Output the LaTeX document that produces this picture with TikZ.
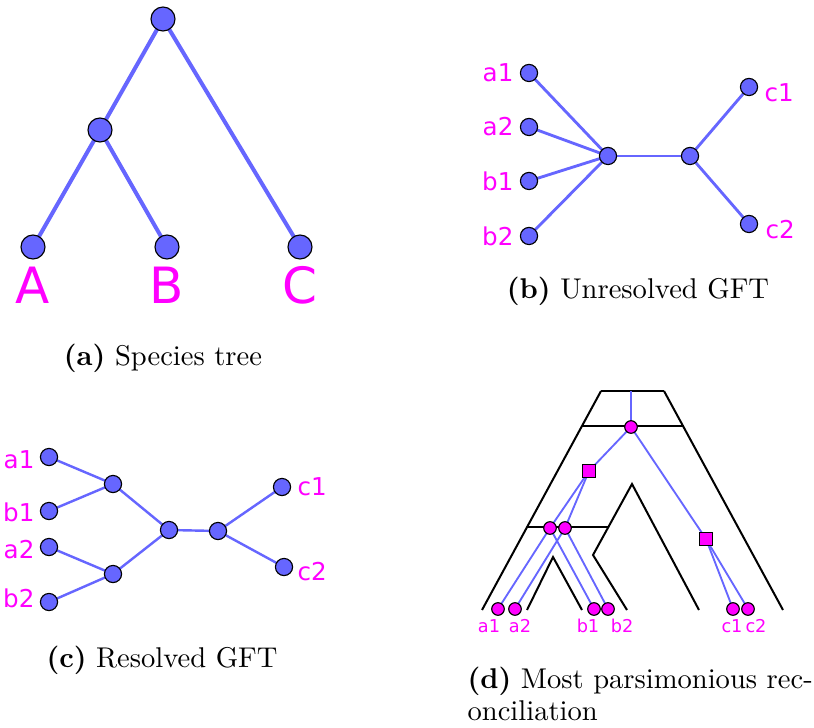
\documentclass[tikz,border=0pt]{standalone}
\usepackage{fontspec}
\newfontfamily\lblfont{DejaVu Sans}
\definecolor{gblue}{RGB}{102,102,255}
\definecolor{gmag}{RGB}{255,0,255}
\begin{document}
\begin{tikzpicture}[x=0.35pt,y=-0.35pt,
  gnode/.style={circle,draw=black,line width=0.4pt,fill=gblue,inner sep=0pt},
  anode/.style={gnode,minimum size=8.4pt},
  bnode/.style={gnode,minimum size=6pt},
  dcirc/.style={circle,draw=black,line width=0.4pt,fill=gmag,inner sep=0pt,minimum size=4.4pt},
  dsq/.style={rectangle,draw=black,line width=0.4pt,fill=gmag,inner sep=0pt,minimum size=4.5pt},
  bigl/.style={text=gmag,inner sep=0pt,font=\lblfont\fontsize{17.5}{20}\selectfont},
  midl/.style={text=gmag,inner sep=0pt,font=\lblfont\fontsize{8.6}{10}\selectfont},
  smalll/.style={text=gmag,inner sep=0pt,font=\lblfont\fontsize{6.2}{7}\selectfont},
  aedge/.style={draw=gblue,line width=1.4pt},
  bedge/.style={draw=gblue,line width=1pt},
  cedge/.style={draw=gblue,line width=0.85pt},
  dedge/.style={draw=gblue,line width=0.65pt},
  sptree/.style={draw=black,line width=0.7pt,line join=miter},
  capt/.style={inner sep=0pt,font=\fontsize{10}{12}\selectfont}
]
\useasboundingbox (0,0) rectangle (814,728);

% ---------- (a) species tree ----------
\coordinate (ar) at (163,19);
\coordinate (am) at (100,130);
\coordinate (aA) at (33,247);
\coordinate (aB) at (167,247);
\coordinate (aC) at (300,247);
\draw[aedge] (ar) -- (am);
\draw[aedge] (ar) -- (aC);
\draw[aedge] (am) -- (aA);
\draw[aedge] (am) -- (aB);
\foreach \n in {ar,am,aA,aB,aC} \node[anode] at (\n) {};
\node[bigl] (lA) at (33,285) {A};
\node[bigl] (lB) at (167,285) {B};
\node[bigl] (lC) at (300,285) {C};
\node[capt,anchor=base] (capa) at (163,366) {\textbf{(a)} Species tree};

% ---------- (b) unresolved gene family tree ----------
\coordinate (bp1) at (608,156);
\coordinate (bp2) at (690,156);
\coordinate (ba1) at (529,73);
\coordinate (ba2) at (529,127);
\coordinate (bb1) at (529,181);
\coordinate (bb2) at (529,236);
\coordinate (bc1) at (749,87);
\coordinate (bc2) at (749,224);
\draw[bedge] (bp1) -- (ba1);
\draw[bedge] (bp1) -- (ba2);
\draw[bedge] (bp1) -- (bb1);
\draw[bedge] (bp1) -- (bb2);
\draw[bedge] (bp1) -- (bp2);
\draw[bedge] (bp2) -- (bc1);
\draw[bedge] (bp2) -- (bc2);
\foreach \n in {bp1,bp2,ba1,ba2,bb1,bb2,bc1,bc2} \node[bnode] at (\n) {};
\node[midl,anchor=east] (lba1) at (514,73) {a1};
\node[midl,anchor=east] (lba2) at (514,127) {a2};
\node[midl,anchor=east] (lbb1) at (514,181) {b1};
\node[midl,anchor=east] (lbb2) at (514,236) {b2};
\node[midl,anchor=west] (lbc1) at (764,93) {c1};
\node[midl,anchor=west] (lbc2) at (765,230) {c2};
\node[capt,anchor=base] (capb) at (638,299) {\textbf{(b)} Unresolved GFT};

% ---------- (c) resolved gene family tree ----------
\coordinate (ca1) at (49,457);
\coordinate (cb1) at (49,511);
\coordinate (ca2) at (49,547);
\coordinate (cb2) at (49,602);
\coordinate (cn1) at (113,484);
\coordinate (cn2) at (113,574);
\coordinate (cm) at (169,530);
\coordinate (cr) at (218,531);
\coordinate (cc1) at (282,487);
\coordinate (cc2) at (284,567);
\draw[cedge] (ca1) -- (cn1) -- (cb1);
\draw[cedge] (ca2) -- (cn2) -- (cb2);
\draw[cedge] (cn1) -- (cm) -- (cn2);
\draw[cedge] (cm) -- (cr);
\draw[cedge] (cc1) -- (cr) -- (cc2);
\foreach \n in {ca1,cb1,ca2,cb2,cn1,cn2,cm,cr,cc1,cc2} \node[bnode] at (\n) {};
\node[midl,anchor=east] (lca1) at (35,460) {a1};
\node[midl,anchor=east] (lcb1) at (35,512) {b1};
\node[midl,anchor=east] (lca2) at (35,550) {a2};
\node[midl,anchor=east] (lcb2) at (35,598) {b2};
\node[midl,anchor=west] (lcc1) at (297,487) {c1};
\node[midl,anchor=west] (lcc2) at (297,572) {c2};
\node[capt,anchor=base] (capc) at (162,667) {\textbf{(c)} Resolved GFT};

% ---------- (d) reconciliation ----------
% species tree drawn as tubes
\draw[sptree] (601,391) -- (664,391);
\draw[sptree] (601,391) -- (482,610);
\draw[sptree] (664,391) -- (783,610);
\draw[sptree] (582,426) -- (683,426);
\draw[sptree] (527,527) -- (608,527);
\draw[sptree] (527,610) -- (553,557) -- (582,610);
\draw[sptree] (627,610) -- (593,555) -- (632,484) -- (699,610);
% embedded gene tree
\coordinate (dtop) at (631,391);
\coordinate (droot) at (631,427);
\coordinate (ddup) at (589,471);
\coordinate (dl1) at (550,528);
\coordinate (dl2) at (565,528);
\coordinate (dcs) at (706,539);
\coordinate (da1) at (498,609);
\coordinate (da2) at (515,609);
\coordinate (db1) at (594,609);
\coordinate (db2) at (608,609);
\coordinate (dc1) at (733,609);
\coordinate (dc2) at (748,609);
\draw[dedge] (dtop) -- (droot);
\draw[dedge] (droot) -- (ddup);
\draw[dedge] (droot) -- (dcs);
\draw[dedge] (ddup) -- (dl1);
\draw[dedge] (ddup) -- (dl2);
\draw[dedge] (dl1) -- (da1);
\draw[dedge] (dl1) -- (db1);
\draw[dedge] (dl2) -- (da2);
\draw[dedge] (dl2) -- (db2);
\draw[dedge] (dcs) -- (dc1);
\draw[dedge] (dcs) -- (dc2);
\foreach \n in {droot,dl1,dl2,da1,da2,db1,db2,dc1,dc2} \node[dcirc] at (\n) {};
\node[dsq] at (ddup) {};
\node[dsq] at (dcs) {};
\node[smalll] (lda1) at (489,626) {a1};
\node[smalll] (lda2) at (520,626) {a2};
\node[smalll] (ldb1) at (588,626) {b1};
\node[smalll] (ldb2) at (622,626) {b2};
\node[smalll] (ldc1) at (732,626) {c1};
\node[smalll] (ldc2) at (756,626) {c2};
\node[capt,anchor=base west] (capd1) at (467,688) {\textbf{(d)} Most parsimonious rec-};
\node[capt,anchor=base west] (capd2) at (467,720) {onciliation};
\end{tikzpicture}
\end{document}
